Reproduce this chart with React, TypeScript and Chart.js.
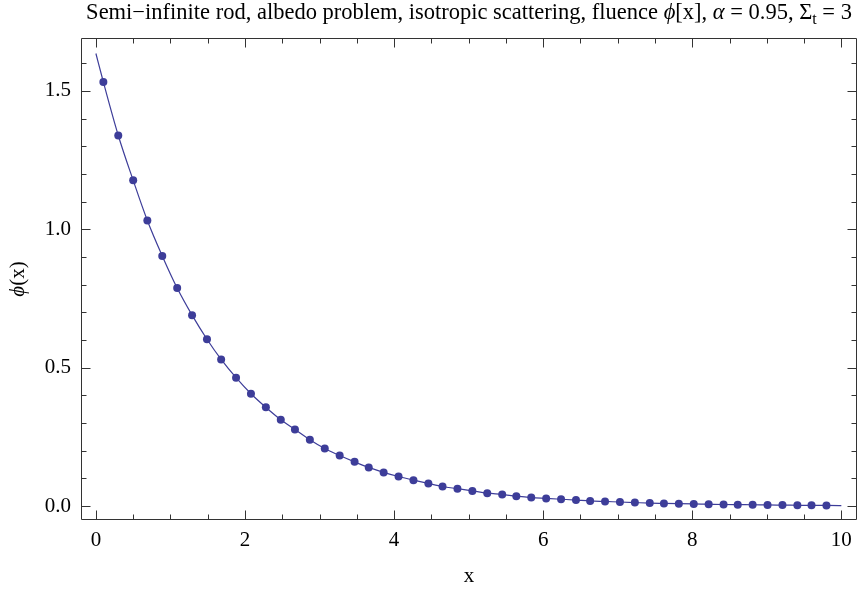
import { useEffect, useRef } from "react";
import { Chart, registerables } from "chart.js";
Chart.register(...registerables);

// sample positions (x) and fluence values phi(x)
const sampleX = [
  0.10, 0.30, 0.50, 0.69, 0.89, 1.09, 1.29, 1.49, 1.68, 1.88,
  2.08, 2.28, 2.48, 2.67, 2.87, 3.07, 3.27, 3.47, 3.66, 3.86,
  4.06, 4.26, 4.46, 4.65, 4.85, 5.05, 5.25, 5.45, 5.64, 5.84,
  6.04, 6.24, 6.44, 6.63, 6.83, 7.03, 7.23, 7.43, 7.62, 7.82,
  8.02, 8.22, 8.42, 8.61, 8.81, 9.01, 9.21, 9.41, 9.60, 9.80,
];
const fluence = [
  1.532, 1.339, 1.177, 1.032, 0.904, 0.788, 0.690, 0.603, 0.530, 0.464,
  0.406, 0.357, 0.312, 0.277, 0.240, 0.208, 0.183, 0.160, 0.140, 0.122,
  0.107, 0.094, 0.082, 0.071, 0.063, 0.055, 0.047, 0.042, 0.036, 0.031,
  0.028, 0.025, 0.022, 0.019, 0.017, 0.015, 0.013, 0.011, 0.010, 0.009,
  0.008, 0.007, 0.006, 0.0055, 0.005, 0.0043, 0.0038, 0.0033, 0.0029, 0.0026,
];
// continuous curve: endpoints plus the sampled values
const curveX = [0, ...sampleX, 10];
const curveY = [1.635, ...fluence, 0.0022];

const xMajorTicks = [0, 2, 4, 6, 8, 10];
const yMajorTicks = [0, 0.5, 1.0, 1.5];
const xMinorStep = 0.5;
const yMinorStep = 0.1;

const titleParts: { text: string; style?: string }[] = [
  { text: "Semi\u2212infinite rod, albedo problem, isotropic scattering, fluence " },
  { text: "\u03D5", style: "italic" },
  { text: "[x], " },
  { text: "\u03B1", style: "italic" },
  { text: " = 0.95, \u03A3" },
  { text: "t", style: "sub" },
  { text: " = 3" },
];
const yLabelParts: { text: string; style?: string }[] = [
  { text: "\u03D5", style: "italic" },
  { text: "(x)" },
];
const xLabel = "x";

const FONT = '"Liberation Serif", "Times New Roman", serif';
const COLOR = "#3d3d99";
const FRAME = "#333333";

function drawRich(ctx: CanvasRenderingContext2D, parts: { text: string; style?: string }[], size: number, cx: number, baseline: number) {
  const fontFor = (s?: string) =>
    s === "italic" ? `italic ${size}px ${FONT}` : s === "sub" ? `${Math.round(size * 0.7)}px ${FONT}` : `${size}px ${FONT}`;
  let total = 0;
  const widths = parts.map((p) => {
    ctx.font = fontFor(p.style);
    const w = ctx.measureText(p.text).width;
    total += w;
    return w;
  });
  let x = cx - total / 2;
  ctx.textBaseline = "alphabetic";
  ctx.textAlign = "left";
  parts.forEach((p, i) => {
    ctx.font = fontFor(p.style);
    ctx.fillText(p.text, x, p.style === "sub" ? baseline + size * 0.22 : baseline);
    x += widths[i];
  });
}

const framePlugin = {
  id: "framePlugin",
  afterDraw(chart: any) {
    const { ctx, chartArea } = chart;
    const xs = chart.scales.x;
    const ys = chart.scales.y;
    const L = Math.round(chartArea.left) + 0.5;
    const R = Math.round(chartArea.right) - 0.5;
    const T = Math.round(chartArea.top) + 0.5;
    const B = Math.round(chartArea.bottom) - 0.5;
    ctx.save();
    ctx.strokeStyle = FRAME;
    ctx.lineWidth = 1;
    ctx.beginPath();
    ctx.rect(L, T, R - L, B - T);
    ctx.stroke();
    // x ticks
    for (let v = 0; v <= 10 + 1e-9; v += xMinorStep) {
      const major = xMajorTicks.some((t) => Math.abs(t - v) < 1e-6);
      const len = major ? 9 : 5;
      const px = Math.round(xs.getPixelForValue(v)) + 0.5;
      ctx.beginPath();
      ctx.moveTo(px, B);
      ctx.lineTo(px, B - len);
      ctx.moveTo(px, T);
      ctx.lineTo(px, T + len);
      ctx.stroke();
    }
    // y ticks
    for (let v = 0; v <= 1.65; v += yMinorStep) {
      const major = yMajorTicks.some((t) => Math.abs(t - v) < 1e-6);
      const len = major ? 9 : 5;
      const py = Math.round(ys.getPixelForValue(v)) + 0.5;
      ctx.beginPath();
      ctx.moveTo(L, py);
      ctx.lineTo(L + len, py);
      ctx.moveTo(R, py);
      ctx.lineTo(R - len, py);
      ctx.stroke();
    }
    // title
    ctx.fillStyle = "#000";
    drawRich(ctx, titleParts, 22.5, (chartArea.left + chartArea.right) / 2, 19);
    // y label
    ctx.save();
    ctx.translate(24, (chartArea.top + chartArea.bottom) / 2);
    ctx.rotate(-Math.PI / 2);
    drawRich(ctx, yLabelParts, 21, 0, 0);
    ctx.restore();
    ctx.restore();
  },
};

export default function App() {
  const ref = useRef<HTMLCanvasElement>(null);
  useEffect(() => {
    if (!ref.current) return;
    const chart = new Chart(ref.current, {
      type: "scatter",
      data: {
        datasets: [
          {
            label: "samples",
            data: sampleX.map((x, i) => ({ x, y: fluence[i] })),
            pointRadius: 4,
            pointHoverRadius: 4,
            pointBackgroundColor: COLOR,
            pointBorderWidth: 0,
            borderColor: COLOR,
            backgroundColor: COLOR,
            showLine: false,
            order: 0,
          },
          {
            label: "curve",
            data: curveX.map((x, i) => ({ x, y: curveY[i] })),
            pointRadius: 0,
            showLine: true,
            borderColor: COLOR,
            borderWidth: 1.2,
            cubicInterpolationMode: "monotone",
            fill: false,
            order: 1,
          },
        ],
      },
      plugins: [framePlugin],
      options: {
        responsive: false,
        animation: false,
        events: [],
        layout: { padding: { top: 38, right: 1, left: 0, bottom: 0 } },
        plugins: { legend: { display: false }, title: { display: false }, tooltip: { enabled: false } },
        scales: {
          x: {
            type: "linear",
            min: -0.2,
            max: 10.21,
            afterFit: (s: any) => { s.height = 72; s.paddingLeft = 0; s.paddingRight = 0; },
            grid: { display: false, drawTicks: false },
            border: { display: false },
            ticks: {
              includeBounds: false,
              stepSize: 2,
              autoSkip: false,
              maxRotation: 0,
              padding: 8,
              color: "#000",
              font: { family: FONT, size: 21 },
              callback: (v: any) => String(v),
            },
            afterBuildTicks: (s: any) => { s.ticks = xMajorTicks.map((value) => ({ value })); },
            title: {
              display: true,
              text: xLabel,
              color: "#000",
              font: { family: FONT, size: 21 },
              padding: { top: 0, bottom: 3 },
            },
          },
          y: {
            type: "linear",
            min: -0.05,
            max: 1.691,
            afterFit: (s: any) => { s.width = 81; s.paddingTop = 0; s.paddingBottom = 0; },
            grid: { display: false, drawTicks: false },
            border: { display: false },
            ticks: {
              includeBounds: false,
              padding: 10,
              color: "#000",
              font: { family: FONT, size: 21 },
              callback: (v: any) => Number(v).toFixed(1),
            },
            afterBuildTicks: (s: any) => { s.ticks = yMajorTicks.map((value) => ({ value })); },
          },
        },
      },
    } as any);
    return () => chart.destroy();
  }, []);
  return (
    <div style={{ position: "absolute", left: 0, top: 0, width: 861, height: 592, background: "#fff" }}>
      <canvas ref={ref} width={861} height={592} style={{ display: "block" }} />
    </div>
  );
}
